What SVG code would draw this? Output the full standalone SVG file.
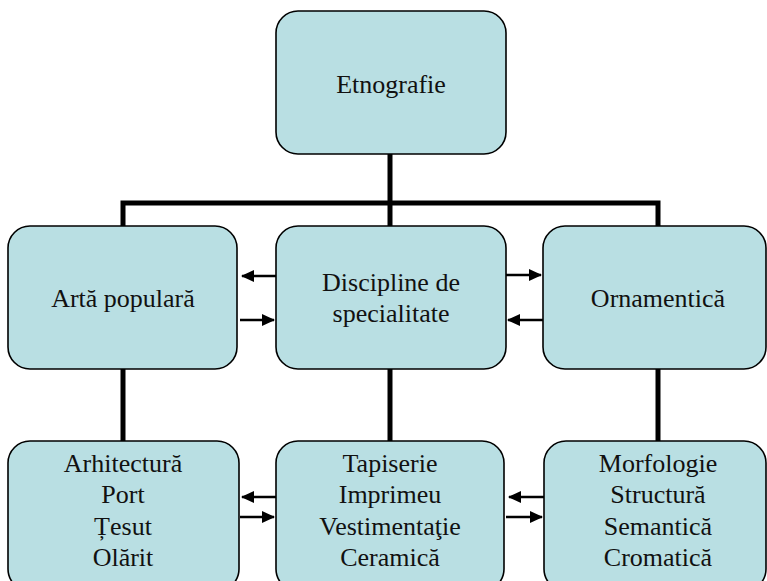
<svg xmlns="http://www.w3.org/2000/svg" width="767" height="581" viewBox="0 0 767 581">
<style>
.box{fill:#B9DFE3;stroke:#000;stroke-width:1.6}
text{font-family:'Liberation Serif','DejaVu Serif',serif;font-size:26px;fill:#111;text-anchor:middle}
.c{stroke:#000;stroke-width:5;fill:none}
.a{stroke:#000;stroke-width:2.4;fill:none;marker-end:url(#ah)}
</style>
<defs>
<marker id="ah" markerWidth="14" markerHeight="14" refX="12" refY="7" orient="auto" markerUnits="userSpaceOnUse">
<path d="M0,1 L13,7 L0,13 Z" fill="#000"/>
</marker>
</defs>
<g id="connectors">
<path class="c" d="M390,154 V226"/>
<path class="c" d="M123,226 V203 H658 V226"/>
<path class="c" d="M123,369 V441"/>
<path class="c" d="M390,369 V441"/>
<path class="c" d="M658,369 V441"/>
<path class="a" d="M276,276 H242"/>
<path class="a" d="M240,320 H274"/>
<path class="a" d="M506,275 H541"/>
<path class="a" d="M543,320 H508"/>
<path class="a" d="M276,497 H242"/>
<path class="a" d="M240,517 H274"/>
<path class="a" d="M544,497 H509"/>
<path class="a" d="M506,517 H542"/>
</g>
<g id="etnografie">
<rect class="box" x="276" y="11" width="230" height="143" rx="22"/>
<text x="391" y="93">Etnografie</text>
</g>
<g id="arta">
<rect class="box" x="8" y="226" width="229" height="143" rx="22"/>
<text x="123" y="307">Artă populară</text>
</g>
<g id="discipline">
<rect class="box" x="276" y="226" width="230" height="143" rx="22"/>
<text x="391" y="291">Discipline de</text>
<text x="391" y="322">specialitate</text>
</g>
<g id="ornamentica">
<rect class="box" x="543" y="226" width="223" height="143" rx="22"/>
<text x="658" y="307">Ornamentică</text>
</g>
<g id="arhitectura">
<rect class="box" x="8" y="441" width="231" height="150" rx="22"/>
<text x="123" y="472">Arhitectură</text>
<text x="123" y="503">Port</text>
<text x="123" y="535">Țesut</text>
<text x="123" y="566">Olărit</text>
</g>
<g id="tapiserie">
<rect class="box" x="276" y="441" width="228" height="150" rx="22"/>
<text x="390" y="472">Tapiserie</text>
<text x="390" y="503">Imprimeu</text>
<text x="390" y="535">Vestimentaţie</text>
<text x="390" y="566">Ceramică</text>
</g>
<g id="morfologie">
<rect class="box" x="544" y="441" width="222" height="150" rx="22"/>
<text x="658" y="472">Morfologie</text>
<text x="658" y="503">Structură</text>
<text x="658" y="535">Semantică</text>
<text x="658" y="566">Cromatică</text>
</g>
</svg>
